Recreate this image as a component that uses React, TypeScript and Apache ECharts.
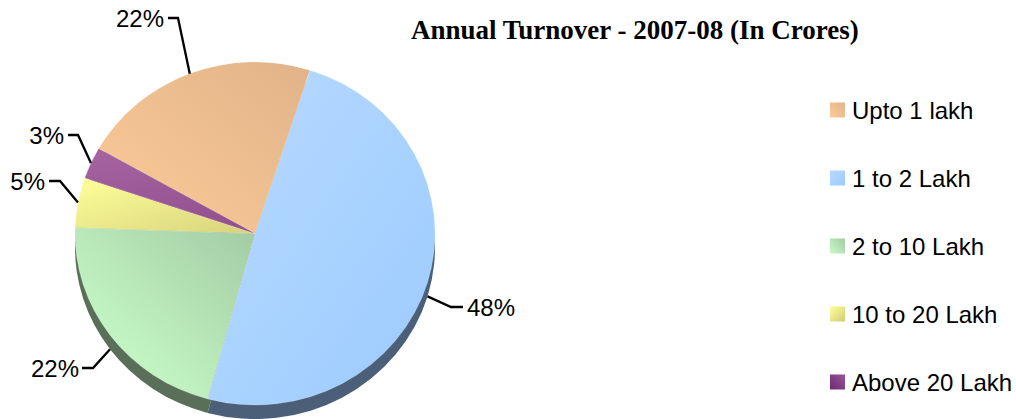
import React, { useEffect, useRef } from "react";
import * as echarts from "echarts";

const categories = ["Upto 1 lakh", "1 to 2 Lakh", "2 to 10 Lakh", "10 to 20 Lakh", "Above 20 Lakh"];
const sliceValues = [21.7, 49.3, 21.3, 4.7, 3.0];
const percentLabels = ["22%", "48%", "22%", "5%", "3%"];
const titleText = "Annual Turnover - 2007-08 (In Crores)";

// layout
const CX = 255;
const CY = 233.5;
const RX = 180;
const RY = 171.5;
const DEPTH = 14;
const START_DEG = -60.3;
// per-slice leader elbow and label side
const elbows = [[178, 18, 168], [451, 307, 463], [93, 368, 82], [60, 181, 49], [78, 135, 68]];
const labelAnchorX = [164, 467, 79, 45, 64];
const labelAlign = ["right", "left", "right", "right", "right"];

// style
const grad = (x: number, y: number, x2: number, y2: number, a: string, b: string) =>
  new echarts.graphic.LinearGradient(x, y, x2, y2, [{ offset: 0, color: a }, { offset: 1, color: b }]);
const faceFills = [
  grad(0, 1, 1, 0, "#FCCB99", "#E1B388"),
  grad(0, 0, 1, 1, "#B8DAFF", "#9BCBFF"),
  grad(0.15, 0.85, 1, 0, "#C8FCC8", "#A3CBA3"),
  grad(0, 0, 1, 1, "#FFFF99", "#D6D27C"),
  grad(0.3, 0, 0.7, 1, "#A4629F", "#93508F"),
];
const legendFills = [
  grad(0, 1, 1, 0, "#FCCB99", "#E1B388"),
  grad(0, 0, 1, 1, "#B8DAFF", "#9BCBFF"),
  grad(0, 1, 1, 0, "#C8FCC8", "#A3CBA3"),
  grad(0, 0, 1, 1, "#FFFF99", "#D0CC78"),
  grad(0, 1, 1, 0, "#6E2A70", "#96559A"),
];
const sideColors = ["#8A7058", "#4B5F78", "#596F58", "#8A8A50", "#50305A"];

const total = sliceValues.reduce((a, b) => a + b, 0);
const startOf = (i: number) =>
  START_DEG + (sliceValues.slice(0, i).reduce((a, b) => a + b, 0) / total) * 360;
const endOf = (i: number) => startOf(i) + (sliceValues[i] / total) * 360;
const rad = (clockDeg: number) => ((clockDeg - 90) * Math.PI) / 180;

const sector = (i: number, dy: number, style: any) => ({
  type: "sector",
  x: CX,
  y: CY + dy,
  scaleY: RY / RX,
  shape: { cx: 0, cy: 0, r0: 0, r: RX, startAngle: rad(startOf(i)), endAngle: rad(endOf(i)), clockwise: true },
  style,
});

const renderSide = (params: any) => sector(params.dataIndex, DEPTH, { fill: sideColors[params.dataIndex] });

const renderLeader = (params: any) => {
  const i = params.dataIndex;
  const a = rad((startOf(i) + endOf(i)) / 2);
  const px = CX + RX * Math.cos(a);
  const py = CY + RY * Math.sin(a) + (Math.sin(a) > 0 ? DEPTH : 0);
  const [ex, ey, hx] = elbows[i];
  return {
    type: "group",
    children: [
      {
        type: "polyline",
        shape: { points: [[px, py], [ex, ey], [hx, ey]] },
        style: { stroke: "#000", lineWidth: 2.3, fill: "none" },
      },
      {
        type: "text",
        x: labelAnchorX[i],
        y: ey,
        style: {
          text: percentLabels[i],
          fontFamily: "Liberation Sans",
          fontSize: 24,
          fill: "#000",
          align: labelAlign[i],
          verticalAlign: "middle",
        },
      },
    ],
  };
};

export default function App() {
  const ref = useRef<HTMLDivElement>(null);
  useEffect(() => {
    document.body.style.margin = "0";
    document.body.style.background = "#fff";
    const chart = echarts.init(ref.current!, undefined, { renderer: "svg" });
    chart.setOption({
      animation: false,
      backgroundColor: "#fff",
      title: {
        text: titleText,
        left: 411,
        top: 16,
        padding: 0,
        textStyle: { fontFamily: "Liberation Serif", fontWeight: "bold", fontSize: 27, color: "#000" },
      },
      legend: {
        orient: "vertical",
        left: 830,
        top: 98,
        padding: 0,
        icon: "rect",
        itemWidth: 15,
        itemHeight: 15,
        itemGap: 44,
        itemStyle: { borderWidth: 0 },
        selectedMode: false,
        data: categories,
        textStyle: { fontFamily: "Liberation Sans", fontSize: 24, color: "#000", padding: [0, 0, 0, 2] },
      },
      series: [
        {
          type: "custom",
          name: "side",
          coordinateSystem: "none",
          z: 1,
          silent: true,
          data: sliceValues.map((v) => [v]),
          renderItem: renderSide,
        },
        ...categories.map((name, i) => ({
          type: "custom",
          name,
          coordinateSystem: "none",
          z: 2,
          silent: true,
          itemStyle: { color: legendFills[i] },
          data: [[sliceValues[i]]],
          renderItem: () =>
            sector(i, 0, { fill: faceFills[i], stroke: "rgba(255,255,255,0.35)", lineWidth: 0.6 }),
        })),
        {
          type: "custom",
          name: "labels",
          coordinateSystem: "none",
          z: 3,
          silent: true,
          data: percentLabels.map((t, i) => [sliceValues[i]]),
          renderItem: renderLeader,
        },
      ],
    });
    return () => chart.dispose();
  }, []);
  return <div ref={ref} style={{ width: 1016, height: 419, overflow: "hidden" }} />;
}
